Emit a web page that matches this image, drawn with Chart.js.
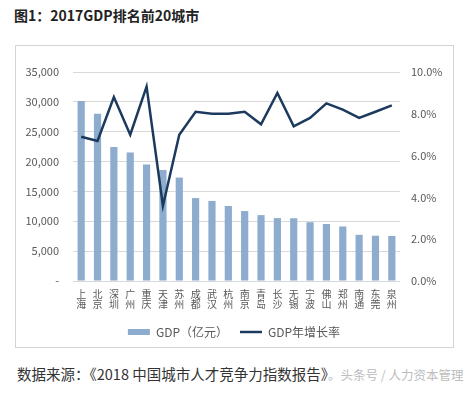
<!DOCTYPE html>
<html>
<head>
<meta charset="utf-8">
<script src="https://cdn.jsdelivr.net/npm/chart.js@4"></script>
<style>
  body { margin: 0; background: #fff; width: 474px; height: 395px; position: relative; overflow: hidden; }
  #title { position: absolute; left: 14px; top: 5px; font: bold 14px "Noto Sans CJK SC", sans-serif; color: #222; white-space: nowrap; }
  #frame { position: absolute; left: 15px; top: 45px; width: 437px; height: 301px; border: 1px solid #d4d4d4; }
  #wrap { position: absolute; left: 16px; top: 46px; width: 436px; height: 302px; }
  #footer { position: absolute; left: 17px; top: 363px; font: 14.5px "Noto Sans CJK SC", serif; color: #333; white-space: nowrap; }
  #footer span { color: #bdbdbd; font-size: 12.5px; }
</style>
</head>
<body>
<div id="title">图1：2017GDP排名前20城市</div>
<div id="frame"></div>
<div id="wrap"><canvas id="gdpChart" width="436" height="302"></canvas></div>
<div id="footer">数据来源：《2018 中国城市人才竞争力指数报告》<span>。头条号 / 人力资本管理</span></div>
<script>
// 城市
var cities = ['上海', '北京', '深圳', '广州', '重庆', '天津', '苏州', '成都', '武汉', '杭州',
  '南京', '青岛', '长沙', '无锡', '宁波', '佛山', '郑州', '南通', '东莞', '泉州'];

// GDP（亿元）
var gdp = [30133, 28000, 22438, 21503, 19500, 18595, 17319, 13889, 13410, 12556,
  11715, 11037, 10536, 10512, 9846, 9550, 9130, 7734, 7582, 7548];

// GDP年增长率（%）
var growth = [6.9, 6.7, 8.8, 7.0, 9.3, 3.6, 7.0, 8.1, 8.0, 8.0,
  8.1, 7.5, 9.0, 7.4, 7.8, 8.5, 8.2, 7.8, 8.1, 8.4];

// 竖排：每个城市拆成两行
var cityLabels = cities.map(function (c) { return [c.charAt(0), c.charAt(1)]; });

var gray = '#595959';
var tickFont = { family: '"Noto Sans CJK SC", sans-serif', size: 11 };

var ctx = document.getElementById('gdpChart').getContext('2d');

var chart = new Chart(ctx, {
  type: 'bar',
  data: {
    labels: cityLabels,
    datasets: [{
      label: 'GDP（亿元）',
      data: gdp,
      backgroundColor: '#8eaccd',
      borderWidth: 0,
      categoryPercentage: 1,
      barPercentage: 0.44,
      pointStyle: 'rect',
      yAxisID: 'y',
      order: 1
    }, {
      type: 'line',
      label: 'GDP年增长率',
      data: growth,
      borderColor: '#1c3a5e',
      backgroundColor: '#1c3a5e',
      borderWidth: 2.5,
      pointRadius: 0,
      pointStyle: 'line',
      tension: 0,
      yAxisID: 'y1',
      order: 0
    }]
  },
  options: {
    responsive: false,
    animation: false,
    layout: { padding: { left: 0, right: 0, top: 26, bottom: 0 } },
    plugins: {
      tooltip: { enabled: false },
      legend: {
        position: 'bottom',
        labels: {
          usePointStyle: true,
          pointStyleWidth: 22,
          boxHeight: 6,
          padding: 12,
          color: gray,
          font: { family: '"Noto Sans CJK SC", sans-serif', size: 12 },
          sort: function (a, b) { return a.datasetIndex - b.datasetIndex; }
        }
      }
    },
    scales: {
      x: {
        grid: { display: false, drawTicks: false },
        border: { display: false },
        ticks: {
          color: gray,
          padding: 8,
          maxRotation: 0,
          autoSkip: false,
          font: { family: '"Noto Sans CJK SC", sans-serif', size: 10, lineHeight: '10px' }
        },
        afterFit: function (s) { s.height = 33; }
      },
      y: {
        position: 'left',
        min: 0,
        max: 35000,
        grid: { color: '#d9d9d9', drawTicks: false },
        border: { display: false },
        ticks: {
          stepSize: 5000,
          color: gray,
          padding: 14,
          font: tickFont,
          callback: function (v) { return v === 0 ? '-' : v.toLocaleString('en-US'); }
        },
        afterFit: function (s) { s.width = 57; }
      },
      y1: {
        position: 'right',
        min: 0,
        max: 10,
        grid: { display: false, drawTicks: false },
        border: { display: false },
        ticks: {
          stepSize: 2,
          color: gray,
          padding: 11,
          font: tickFont,
          callback: function (v) { return v.toFixed(1) + '%'; }
        },
        afterFit: function (s) { s.width = 52; }
      }
    }
  }
});
</script>
</body>
</html>
